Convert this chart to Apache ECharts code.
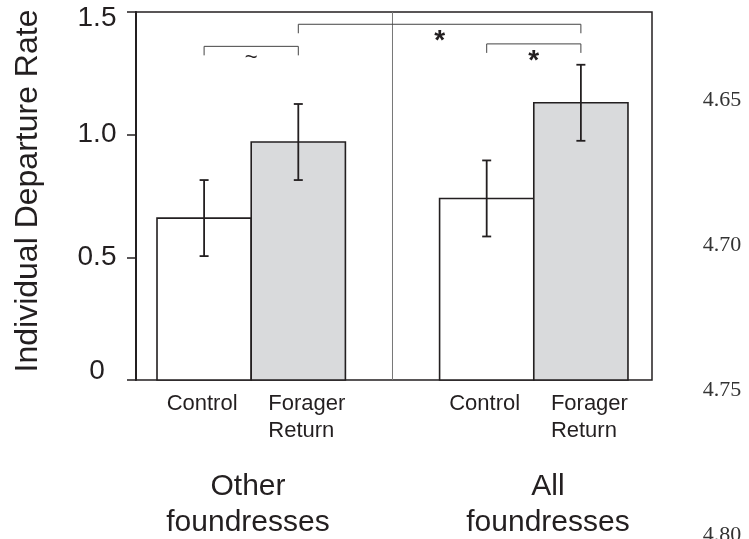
<!DOCTYPE html>
<html>
<head>
<meta charset="utf-8">
<script src="https://cdn.jsdelivr.net/npm/echarts@6/dist/echarts.min.js"></script>
<style>
  html, body { margin: 0; padding: 0; background: #fff; }
  #chart { width: 749px; height: 539px; }
</style>
</head>
<body>
<div id="chart"></div>
<script>
// values
var groups = ['Other\nfoundresses', 'All\nfoundresses'];
var treatments = ['Control', 'Forager\nReturn'];
var rateMean = [0.66, 0.97, 0.74, 1.13];
var rateErr = [0.155, 0.155, 0.155, 0.155];
// significance brackets: bar a, bar b, height of bracket, mark
var pairA = [0, 1, 2];
var pairB = [1, 3, 3];
var pairLevel = [1.36, 1.45, 1.37];
var pairMark = ['~', '*', '*'];
var pageNumbers = ['4.65', '4.70', '4.75', '4.80'];

var ink = '#231f20';
var sans = '"Liberation Sans", Arial, Helvetica, sans-serif';

// bar i sits in group floor(i/2), one bar width apart, one empty slot between groups
function slot(i) {
    return Math.floor(i / 2) * 3 + (i % 2) + 0.5;
}

var barData = rateMean.map(function (m, i) {
    return [slot(i), m, rateErr[i], i];
});
var pairData = pairA.map(function (a, k) {
    return [slot(a), slot(pairB[k]), pairLevel[k], k];
});

function renderBar(params, api) {
    var x = api.value(0), m = api.value(1), e = api.value(2), i = api.value(3);
    var tl = api.coord([x - 0.5, m]);
    var br = api.coord([x + 0.5, 0]);
    var hi = api.coord([x, m + e]);
    var lo = api.coord([x, m - e]);
    var cx = (tl[0] + br[0]) / 2;
    var label = treatments[i % 2];
    var twoLines = label.indexOf('\n') >= 0;
    var cap = 4.5;
    return {
        type: 'group',
        children: [
            {
                type: 'rect',
                shape: { x: tl[0], y: tl[1], width: br[0] - tl[0], height: br[1] - tl[1] },
                style: { fill: i % 2 ? '#d9dadc' : '#ffffff', stroke: ink, lineWidth: 1.6 }
            },
            { type: 'line', shape: { x1: cx, y1: hi[1], x2: cx, y2: lo[1] }, style: { stroke: ink, lineWidth: 1.8 } },
            { type: 'line', shape: { x1: cx - cap, y1: hi[1], x2: cx + cap, y2: hi[1] }, style: { stroke: ink, lineWidth: 1.8 } },
            { type: 'line', shape: { x1: cx - cap, y1: lo[1], x2: cx + cap, y2: lo[1] }, style: { stroke: ink, lineWidth: 1.8 } },
            {
                type: 'text',
                x: twoLines ? cx - 30 : cx - 2,
                y: br[1] + 10,
                style: {
                    text: label, fill: ink, fontSize: 22, fontFamily: sans, lineHeight: 27,
                    align: twoLines ? 'left' : 'center', verticalAlign: 'top'
                }
            }
        ]
    };
}

function renderPair(params, api) {
    var a = api.coord([api.value(0), api.value(2)]);
    var b = api.coord([api.value(1), api.value(2)]);
    var mark = pairMark[api.value(3)];
    var drop = 9;
    return {
        type: 'group',
        children: [
            {
                type: 'polyline',
                shape: { points: [[a[0], a[1] + drop], [a[0], a[1]], [b[0], b[1]], [b[0], b[1] + drop]] },
                style: { stroke: '#444', lineWidth: 1, fill: null }
            },
            {
                type: 'text',
                x: (a[0] + b[0]) / 2,
                y: a[1] + (mark === '*' ? 17 : 12),
                style: {
                    text: mark, fill: ink, fontFamily: sans,
                    fontSize: mark === '*' ? 28 : 22, fontWeight: mark === '*' ? 'bold' : 'normal',
                    align: 'center', verticalAlign: 'middle'
                }
            }
        ]
    };
}

function renderDivider(params, api) {
    var t = api.coord([api.value(0), 1.5]);
    var b = api.coord([api.value(0), 0]);
    return {
        type: 'line',
        shape: { x1: t[0], y1: t[1], x2: b[0], y2: b[1] },
        style: { stroke: '#777', lineWidth: 1 }
    };
}

var chart = echarts.init(document.getElementById('chart'));
chart.setOption({
    animation: false,
    backgroundColor: '#ffffff',
    grid: {
        left: 136, right: 97, top: 12, bottom: 159,
        show: true, borderColor: ink, borderWidth: 1.5
    },
    xAxis: { type: 'value', min: -0.223, max: 5.255, show: false },
    yAxis: {
        type: 'value', min: 0, max: 1.5, interval: 0.5,
        axisLine: { show: true, onZero: false, lineStyle: { color: ink, width: 2 } },
        axisTick: { show: true, length: 9, lineStyle: { color: ink, width: 1.5 } },
        splitLine: { show: false },
        axisLabel: {
            margin: 39, align: 'center', color: ink, fontSize: 28, fontFamily: sans,
            formatter: function (v) {
                if (v === 0) return '{b|0}';
                if (v === 1.5) return '{t|1.5}';
                return v.toFixed(1);
            },
            rich: {
                b: { fontSize: 28, fontFamily: sans, color: ink, padding: [0, 0, 18, 0] },
                t: { fontSize: 28, fontFamily: sans, color: ink, padding: [13, 0, 0, 0] }
            }
        }
    },
    series: [
        { type: 'custom', name: 'divider', clip: false, silent: true, renderItem: renderDivider, data: [[2.5]] },
        { type: 'custom', name: 'rate', clip: false, renderItem: renderBar, data: barData },
        { type: 'custom', name: 'pairs', clip: false, silent: true, renderItem: renderPair, data: pairData }
    ],
    graphic: [
        {
            type: 'text', x: 28, y: 191, rotation: Math.PI / 2,
            style: { text: 'Individual Departure Rate', fill: ink, fontSize: 32, fontFamily: sans, align: 'center', verticalAlign: 'middle' }
        },
        {
            type: 'text', x: 248, y: 469,
            style: { text: groups[0], fill: ink, fontSize: 30, fontFamily: sans, lineHeight: 36, align: 'center', verticalAlign: 'top' }
        },
        {
            type: 'text', x: 548, y: 469,
            style: { text: groups[1], fill: ink, fontSize: 30, fontFamily: sans, lineHeight: 36, align: 'center', verticalAlign: 'top' }
        }
    ].concat(pageNumbers.map(function (p, k) {
        return {
            type: 'text', x: 722, y: 100 + k * 145,
            style: { text: p, fill: '#333', fontSize: 22, fontFamily: '"Liberation Serif", "DejaVu Serif", serif', align: 'center', verticalAlign: 'middle' }
        };
    }))
});
</script>
</body>
</html>
